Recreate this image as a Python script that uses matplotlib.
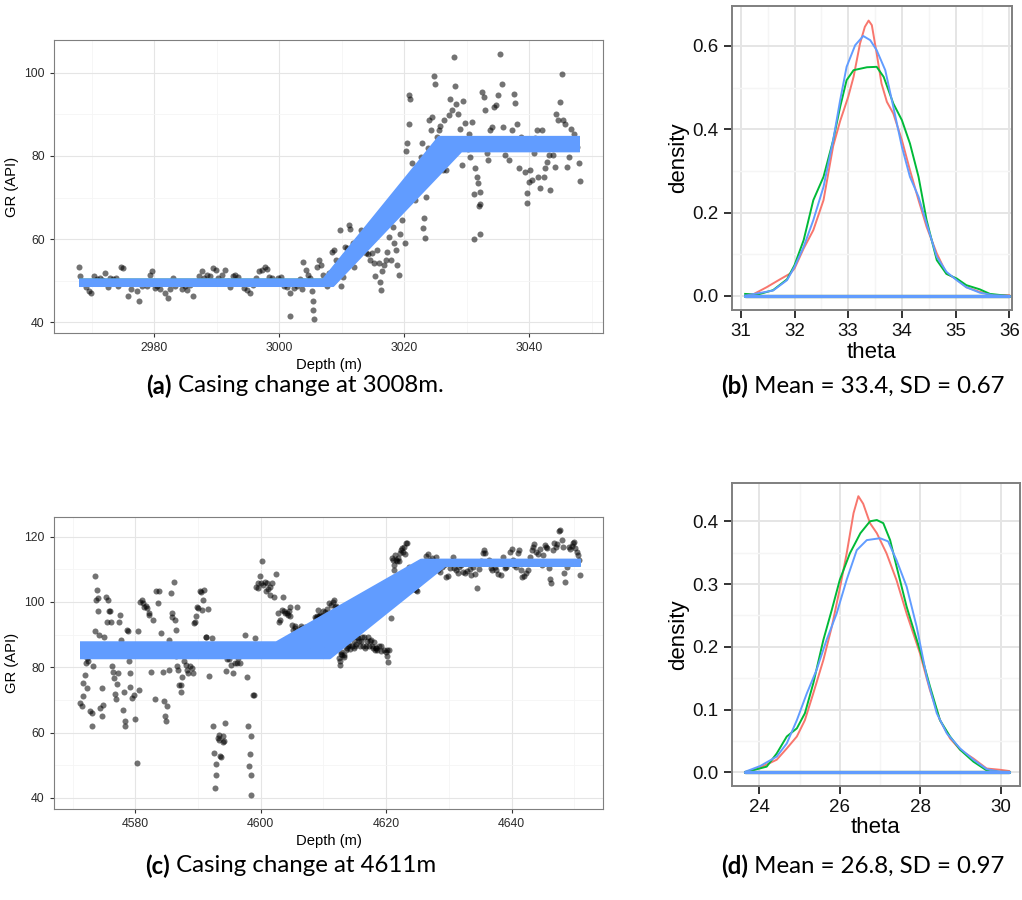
import matplotlib
matplotlib.use('Agg')
import matplotlib.pyplot as plt
import numpy as np

# ---------------- DATA ----------------
# Panel (a): GR log around casing change at 3008 m
depth_a = [2968.0, 2968.1, 2968.6, 2969.1, 2969.6, 2969.9, 2970.4, 2970.8, 2971.3, 2971.75, 2972.2, 2972.6, 2973.0, 2973.4, 2973.9,
           2974.25, 2974.7, 2975.1, 2975.3, 2975.8, 2976.3, 2976.75, 2977.2, 2977.6, 2978.0, 2978.4, 2978.9, 2979.4, 2979.7, 2980.1,
           2980.5, 2980.9, 2981.3, 2981.75, 2982.2, 2982.6, 2983.0, 2983.4, 2983.9, 2984.4, 2984.9, 2985.3, 2985.8, 2986.3, 2986.75,
           2987.2, 2987.7, 2988.0, 2988.4, 2988.9, 2989.4, 2989.9, 2990.3, 2990.8, 2991.3, 2991.75, 2992.2, 2992.6, 2993.0, 2993.4,
           2993.9, 2994.4, 2994.9, 2995.3, 2995.8, 2996.3, 2996.75, 2997.2, 2997.7, 2998.1, 2998.4, 2998.9, 2999.4, 2999.9, 3000.3,
           3000.8, 3001.3, 3001.75, 3001.75, 3002.4, 3002.8, 3003.3, 3003.7, 3003.9, 3004.25, 3004.6, 3004.9, 3005.2, 3005.4, 3005.4,
           3005.6, 3005.8, 3006.1, 3006.4, 3006.75, 3007.1, 3007.4, 3007.7, 3008.0, 3008.4, 3008.8, 3009.1, 3009.4, 3009.7, 3009.9,
           3010.2, 3010.5, 3010.8, 3011.1, 3011.3, 3011.75, 3011.9, 3012.2, 3012.6, 3012.8, 3013.1, 3013.3, 3013.6, 3013.9, 3014.25,
           3014.6, 3014.9, 3015.2, 3015.4, 3015.7, 3015.9, 3016.1, 3016.3, 3016.4, 3016.75, 3017.1, 3017.3, 3017.6, 3017.9, 3018.2,
           3018.4, 3018.7, 3018.9, 3019.1, 3019.3, 3019.6, 3019.8, 3020.1, 3020.3, 3020.5, 3020.7, 3020.8, 3020.9, 3021.2, 3021.4,
           3021.6, 3021.8, 3022.1, 3022.4, 3022.7, 3022.8, 3023.0, 3023.2, 3023.3, 3023.5, 3023.75, 3023.9, 3024.25, 3024.4, 3024.7,
           3024.9, 3025.2, 3025.5, 3025.7, 3025.9, 3026.2, 3026.4, 3026.75, 3027.1, 3027.4, 3027.7, 3027.9, 3028.1, 3028.3, 3028.6,
           3028.9, 3029.25, 3029.4, 3029.7, 3030.2, 3030.4, 3030.6, 3030.8, 3031.1, 3031.2, 3031.4, 3031.6, 3031.8, 3031.9, 3032.1,
           3032.2, 3032.2, 3032.4, 3032.7, 3032.9, 3033.2, 3033.4, 3033.8, 3034.1, 3034.4, 3034.7, 3035.0, 3035.3, 3035.6, 3035.8,
           3036.1, 3036.4, 3036.8, 3037.2, 3037.6, 3037.8, 3038.1, 3038.3, 3038.7, 3038.9, 3039.25, 3039.6, 3039.7, 3039.9, 3040.2,
           3040.4, 3040.7, 3040.9, 3041.2, 3041.4, 3041.8, 3042.1, 3042.3, 3042.6, 3042.8, 3043.1, 3043.3, 3043.4, 3043.8, 3044.1,
           3044.25, 3044.6, 3044.9, 3045.2, 3045.4, 3045.8, 3046.1, 3046.4, 3046.75, 3047.1, 3047.4, 3047.7, 3047.9, 3048.1]
gr_a = [53.2, 51.0, 49.4, 48.4, 47.5, 47.1, 51.1, 50.3, 50.6, 50.2, 51.8, 48.4, 50.6, 50.3, 50.6,
        48.6, 53.4, 53.0, 49.4, 46.3, 47.9, 49.4, 47.4, 45.2, 48.6, 49.6, 48.7, 51.4, 52.4, 48.2,
        48.6, 48.1, 49.6, 47.0, 45.8, 47.9, 50.6, 48.6, 49.4, 47.9, 48.7, 47.8, 49.0, 46.3, 49.4,
        51.1, 52.4, 50.6, 51.4, 51.1, 53.0, 52.6, 50.6, 51.4, 52.6, 50.0, 48.4, 51.1, 51.4, 50.8,
        49.4, 48.2, 47.8, 47.0, 49.0, 50.6, 52.2, 52.6, 53.4, 52.7, 50.8, 50.6, 49.4, 50.6, 50.8,
        48.6, 48.4, 47.0, 41.6, 48.2, 48.6, 50.3, 47.9, 54.6, 52.6, 51.4, 50.6, 47.4, 45.2, 42.9,
        40.7, 49.4, 53.4, 55.0, 53.8, 51.4, 49.6, 48.6, 51.9, 57.0, 57.4, 55.0, 54.2, 62.2, 48.7,
        50.8, 58.2, 57.8, 63.4, 62.4, 59.0, 53.4, 57.8, 56.2, 60.2, 62.3, 57.8, 58.3, 56.7, 56.4,
        55.0, 56.7, 54.3, 51.1, 57.4, 54.2, 49.6, 47.8, 52.4, 53.8, 55.0, 57.0, 60.6, 55.0, 63.0,
        59.0, 57.4, 53.8, 51.4, 61.2, 64.6, 69.4, 59.0, 81.25, 83.2, 87.7, 94.6, 93.8, 78.2, 75.8,
        76.4, 69.4, 72.6, 76.6, 79.8, 83.0, 62.6, 65.0, 60.2, 70.2, 81.8, 88.6, 86.2, 89.3, 99.2,
        97.4, 84.5, 86.2, 87.2, 82.6, 76.6, 88.6, 76.6, 89.8, 93.8, 91.0, 103.9, 96.8, 92.5, 90.2,
        86.6, 77.8, 93.2, 88.0, 81.6, 85.3, 79.8, 88.2, 70.8, 60.0, 77.0, 75.0, 73.4, 68.0, 68.4,
        61.2, 71.4, 95.4, 94.2, 91.0, 80.6, 79.0, 86.2, 87.0, 91.8, 92.2, 94.6, 104.5, 97.4, 87.0,
        80.2, 83.0, 79.0, 86.2, 95.0, 92.8, 87.8, 77.2, 84.6, 82.2, 76.2, 68.75, 71.0, 73.8, 76.6,
        74.2, 80.6, 84.2, 86.2, 75.0, 72.2, 86.2, 75.0, 77.0, 78.6, 80.2, 83.0, 71.8, 80.2, 77.4,
        90.2, 88.6, 93.0, 99.8, 88.6, 87.8, 77.4, 79.8, 86.6, 85.3, 83.8, 82.2, 78.4, 74.0]

# Panel (c): GR log around casing change at 4611 m
depth_c = [4571.15, 4571.4, 4571.6, 4571.7, 4571.9, 4572.1, 4572.2, 4572.3, 4572.5, 4572.7, 4573.0, 4573.1, 4573.3, 4573.5, 4573.6,
           4573.7, 4573.8, 4574.0, 4574.1, 4574.2, 4574.4, 4574.6, 4574.7, 4574.8, 4575.0, 4575.3, 4575.45, 4575.6, 4575.8, 4575.95,
           4576.1, 4576.3, 4576.4, 4576.6, 4576.8, 4576.9, 4577.1, 4577.2, 4577.3, 4577.5, 4577.7, 4577.8, 4578.0, 4578.1, 4578.3,
           4578.4, 4578.6, 4578.75, 4578.9, 4579.1, 4579.2, 4579.4, 4579.6, 4579.7, 4580.0, 4580.2, 4580.4, 4580.6, 4580.8, 4581.1,
           4581.25, 4581.4, 4581.6, 4581.8, 4582.1, 4582.2, 4582.5, 4582.8, 4583.1, 4583.3, 4583.55, 4583.7, 4584.05, 4584.4, 4584.55,
           4584.7, 4584.8, 4585.0, 4585.3, 4585.4, 4585.6, 4585.8, 4585.9, 4586.1, 4586.3, 4586.4, 4586.5, 4586.7, 4586.85, 4587.0,
           4587.2, 4587.3, 4587.5, 4587.8, 4588.1, 4588.3, 4588.4, 4588.7, 4589.0, 4589.2, 4589.35, 4589.5, 4589.7, 4589.8, 4590.0,
           4590.3, 4590.4, 4590.6, 4590.8, 4591.0, 4591.2, 4591.3, 4591.5, 4591.8, 4592.15, 4592.3, 4592.5, 4592.65, 4592.8, 4592.9,
           4593.1, 4593.3, 4593.4, 4593.5, 4593.7, 4593.9, 4594.0, 4594.2, 4594.3, 4594.5, 4594.6, 4594.95, 4595.3, 4595.6, 4595.9,
           4596.2, 4596.4, 4596.6, 4597.1, 4597.45, 4597.8, 4597.9, 4598.1, 4598.3, 4598.4, 4598.4, 4598.5, 4598.7, 4598.9, 4599.1,
           4599.3, 4599.5, 4599.6, 4599.9, 4600.1, 4600.25, 4600.4, 4600.6, 4600.75, 4601.0, 4601.2, 4601.4, 4601.5, 4601.8, 4602.1,
           4602.4, 4602.7, 4602.9, 4603.05, 4603.4, 4603.5, 4603.7, 4603.9, 4604.1, 4604.3, 4604.5, 4604.6, 4604.7, 4604.9, 4605.1,
           4605.4, 4605.5, 4605.7, 4606.0, 4606.2, 4606.35, 4606.5, 4606.8, 4607.1, 4607.4, 4607.7, 4608.0, 4608.3, 4608.7, 4608.85,
           4609.0, 4609.1, 4609.3, 4609.5, 4609.6, 4609.7, 4609.9, 4610.2, 4610.5, 4610.8, 4611.15, 4611.5, 4611.6, 4611.8, 4611.95,
           4612.2, 4612.4, 4612.6, 4612.7, 4612.8, 4612.8, 4613.0, 4613.2, 4613.3, 4613.6, 4613.8, 4613.95, 4614.1, 4614.3, 4614.5,
           4614.6, 4614.8, 4614.9, 4615.1, 4615.2, 4615.3, 4615.5, 4615.7, 4615.8, 4615.95, 4616.1, 4616.3, 4616.45, 4616.6, 4616.8,
           4616.9, 4617.1, 4617.2, 4617.4, 4617.6, 4617.7, 4617.9, 4618.0, 4618.2, 4618.3, 4618.4, 4618.6, 4618.8, 4619.1, 4619.25,
           4619.6, 4619.9, 4620.1, 4620.2, 4620.3, 4620.5, 4620.7, 4620.8, 4620.9, 4621.1, 4621.2, 4621.3, 4621.4, 4621.6, 4621.7,
           4621.9, 4622.1, 4622.2, 4622.4, 4622.55, 4622.7, 4622.8, 4623.0, 4623.2, 4623.3, 4623.6, 4623.9, 4624.2, 4624.4, 4624.7,
           4624.9, 4625.2, 4625.5, 4625.8, 4626.1, 4626.4, 4626.7, 4627.0, 4627.35, 4627.7, 4628.0, 4628.3, 4628.6, 4628.9, 4629.2,
           4629.5, 4629.8, 4630.2, 4630.5, 4630.65, 4630.9, 4631.1, 4631.4, 4631.7, 4632.0, 4632.3, 4632.6, 4632.95, 4633.3, 4633.6,
           4633.9, 4634.2, 4634.5, 4634.8, 4635.1, 4635.45, 4635.6, 4635.8, 4636.1, 4636.4, 4636.7, 4636.9, 4637.1, 4637.3, 4637.6,
           4637.9, 4638.3, 4638.6, 4638.9, 4639.2, 4639.5, 4639.8, 4640.0, 4640.25, 4640.4, 4640.75, 4641.1, 4641.25, 4641.5, 4641.7,
           4642.0, 4642.3, 4642.6, 4642.9, 4643.2, 4643.4, 4643.6, 4643.9, 4644.2, 4644.5, 4644.8, 4645.1, 4645.3, 4645.5, 4645.7,
           4646.0, 4646.2, 4646.35, 4646.7, 4646.85, 4647.1, 4647.3, 4647.6, 4647.8, 4648.0, 4648.2, 4648.4, 4648.6, 4648.85, 4649.2,
           4649.35, 4649.6, 4649.8, 4650.0, 4650.1, 4650.4, 4650.6, 4650.7, 4651.0]
gr_c = [69.0, 68.0, 71.3, 75.15, 77.7, 81.3, 82.8, 73.6, 81.8, 66.5, 61.9, 66.0, 80.45, 107.8, 90.95,
        100.6, 103.7, 101.1, 97.1, 89.9, 67.5, 73.6, 65.0, 68.5, 89.4, 101.65, 94.0, 100.6, 97.1, 97.1,
        94.0, 80.25, 78.7, 76.7, 71.9, 70.3, 74.9, 78.2, 94.0, 96.0, 88.4, 86.4, 67.0, 72.3, 63.4,
        61.9, 91.5, 90.95, 81.8, 78.2, 74.1, 70.6, 85.3, 71.6, 64.1, 50.7, 90.95, 73.1, 100.1, 100.6,
        99.6, 98.6, 98.8, 98.1, 96.6, 96.0, 78.4, 94.5, 70.4, 103.2, 99.6, 103.2, 90.6, 78.4, 69.8,
        65.0, 63.4, 68.0, 79.2, 88.4, 102.7, 96.6, 95.5, 106.2, 94.5, 91.5, 83.3, 80.45, 79.2, 74.6,
        72.3, 74.6, 77.0, 81.8, 80.8, 79.2, 78.2, 80.25, 79.7, 78.2, 93.5, 94.0, 95.7, 98.6, 98.1,
        103.4, 102.9, 97.6, 100.6, 103.7, 89.4, 89.2, 97.8, 77.2, 88.9, 61.9, 53.7, 43.0, 50.4, 47.1,
        58.3, 57.8, 59.35, 52.7, 52.5, 58.8, 57.1, 57.3, 62.9, 79.0, 82.5, 82.5, 80.8, 78.2, 81.3,
        81.3, 82.8, 81.3, 84.3, 89.9, 76.9, 62.1, 49.7, 53.4, 47.1, 41.0, 58.8, 71.6, 71.6, 88.9,
        104.5, 104.2, 105.7, 108.0, 105.9, 112.4, 105.2, 106.2, 103.2, 105.9, 103.9, 104.5, 102.2, 105.9, 101.65,
        108.6, 96.6, 94.0, 94.5, 97.6, 101.65, 97.1, 96.6, 96.6, 96.0, 97.1, 98.6, 95.7, 93.0, 91.5,
        92.5, 92.0, 98.6, 90.2, 91.7, 92.5, 92.0, 90.95, 92.2, 92.0, 90.2, 90.95, 92.0, 95.5, 95.0,
        95.7, 97.6, 95.7, 96.0, 95.7, 94.5, 97.1, 96.8, 97.8, 99.6, 99.1, 100.1, 100.6, 98.6, 98.8,
        98.1, 82.8, 80.8, 81.8, 84.6, 84.1, 83.8, 83.1, 83.8, 85.3, 85.9, 86.4, 86.9, 85.5, 86.4,
        89.4, 85.9, 87.9, 86.4, 87.2, 89.4, 88.9, 87.9, 86.4, 87.9, 89.2, 86.6, 89.2, 85.9, 86.4,
        87.9, 89.2, 86.4, 87.9, 88.4, 86.4, 85.9, 87.6, 85.3, 85.9, 85.9, 85.3, 86.4, 85.1, 86.4,
        85.3, 84.8, 85.3, 83.3, 81.5, 85.3, 95.0, 106.2, 113.4, 112.9, 109.8, 111.3, 114.4, 112.9, 112.4,
        113.4, 112.4, 114.9, 115.9, 116.4, 115.4, 116.9, 114.6, 118.2, 118.0, 110.8, 105.7, 105.2, 103.9, 103.7,
        103.2, 105.9, 108.6, 111.3, 109.8, 114.1, 114.7, 112.9, 113.4, 112.4, 113.9, 109.8, 109.3, 110.8, 111.3,
        107.6, 108.0, 110.3, 112.4, 113.9, 110.3, 109.8, 109.0, 110.8, 111.3, 109.3, 109.0, 109.6, 110.0, 108.3,
        110.8, 108.6, 104.2, 110.0, 112.4, 115.1, 115.9, 114.9, 112.0, 112.7, 110.3, 109.8, 112.0, 110.8, 109.8,
        108.6, 108.3, 113.9, 110.3, 110.8, 112.0, 115.4, 116.1, 112.9, 111.3, 110.8, 115.1, 115.9, 109.8, 107.6,
        108.0, 109.0, 109.8, 113.9, 115.9, 116.9, 117.8, 115.4, 114.7, 116.1, 111.3, 114.4, 117.5, 116.9, 116.4,
        110.3, 107.0, 105.7, 115.9, 118.0, 116.9, 117.8, 121.8, 122.0, 119.0, 116.9, 109.0, 106.2, 110.8, 116.9,
        116.1, 117.15, 118.2, 118.5, 116.4, 115.4, 114.4, 112.9, 108.3]

# Posterior samples of the ramp model: (start of ramp, end of ramp, level before, level after)
chain_names = ["chain 1", "chain 2", "chain 3"]
samples_a = {
    "chain 1": {"cp1": [3007.3, 3007.6, 3008.0, 3008.3, 3008.5, 3007.5, 3007.9],
                "cp2": [3026.0, 3026.7, 3027.5, 3028.3, 3028.9, 3026.4, 3027.3],
                "lev1": [50.0, 49.7, 49.4, 49.15, 48.95, 49.85, 49.5],
                "lev2": [84.2, 83.5, 82.7, 81.9, 81.4, 83.9, 83.0]},
    "chain 2": {"cp1": [3007.2, 3007.5, 3007.9, 3008.2, 3008.5, 3007.4, 3008.1],
                "cp2": [3025.8, 3026.5, 3027.3, 3028.1, 3028.8, 3026.1, 3027.8],
                "lev1": [50.05, 49.8, 49.5, 49.2, 49.0, 49.9, 49.3],
                "lev2": [84.3, 83.7, 82.9, 82.1, 81.5, 84.1, 82.3]},
    "chain 3": {"cp1": [3007.1, 3007.2, 3007.3, 3007.4, 3007.5, 3007.6, 3007.7, 3007.8, 3007.9, 3008.0, 3008.1, 3008.2,
                        3008.3, 3008.4, 3008.5, 3008.6],
                "cp2": [3025.6, 3025.8, 3026.1, 3026.3, 3026.5, 3026.8, 3027.0, 3027.2, 3027.5, 3027.7, 3027.9, 3028.2,
                        3028.4, 3028.6, 3028.9, 3029.1],
                "lev1": [50.1, 50.0, 49.9, 49.85, 49.8, 49.7, 49.6, 49.55, 49.5, 49.4, 49.3, 49.25, 49.2, 49.1, 49.0, 48.9],
                "lev2": [84.4, 84.2, 84.0, 83.8, 83.6, 83.4, 83.2, 83.0, 82.8, 82.6, 82.4, 82.2, 82.0, 81.8, 81.5, 81.3]},
}
samples_c = {
    "chain 1": {"cp1": [4602.8, 4604.8, 4606.8, 4609.0, 4610.8, 4603.9, 4610.0],
                "cp2": [4625.8, 4626.6, 4627.5, 4628.5, 4629.2, 4627.3, 4626.5],
                "lev1": [87.1, 86.1, 85.0, 83.9, 83.2, 84.3, 86.5],
                "lev2": [112.6, 112.3, 111.9, 111.6, 111.4, 111.6, 112.4]},
    "chain 2": {"cp1": [4603.0, 4605.2, 4607.4, 4609.6, 4610.7, 4604.4, 4608.8],
                "cp2": [4625.9, 4626.8, 4627.8, 4628.9, 4629.2, 4627.8, 4626.3],
                "lev1": [87.0, 85.9, 84.7, 83.6, 83.2, 83.8, 86.8],
                "lev2": [112.6, 112.2, 111.8, 111.5, 111.4, 111.5, 112.5]},
    "chain 3": {"cp1": [4602.5, 4603.0, 4603.5, 4604.0, 4604.5, 4605.0, 4605.5, 4606.0, 4606.5, 4607.0, 4607.5, 4608.0,
                        4608.5, 4609.0, 4609.5, 4610.0, 4610.5, 4611.0, 4603.8, 4605.2, 4606.6, 4608.2, 4609.4, 4610.6],
                "cp2": [4625.6, 4625.8, 4626.0, 4626.3, 4626.5, 4626.7, 4626.9, 4627.2, 4627.4, 4627.6, 4627.8, 4628.1,
                        4628.3, 4628.5, 4628.8, 4629.0, 4629.2, 4629.4, 4627.6, 4628.0, 4628.4, 4626.8, 4626.4, 4626.0],
                "lev1": [87.4, 87.1, 86.8, 86.6, 86.3, 86.0, 85.8, 85.5, 85.2, 85.0, 84.7, 84.4, 84.2, 83.9, 83.7, 83.4,
                         83.2, 83.0, 84.0, 83.6, 83.3, 86.4, 86.9, 87.2],
                "lev2": [112.7, 112.6, 112.5, 112.4, 112.3, 112.2, 112.2, 112.1, 112.0, 111.9, 111.8, 111.8, 111.7, 111.6,
                         111.5, 111.4, 111.4, 111.3, 111.7, 111.6, 111.5, 112.3, 112.4, 112.6]},
}
range_a = (2968.0, 3048.1)
range_c = (4571.15, 4651.0)

# Panel (b): posterior density of theta for three chains
b_x = {
    "chain 1": [31.10, 31.23, 31.48, 31.73, 31.92, 32.00, 32.17, 32.35, 32.54, 32.72, 32.85, 33.00, 33.10, 33.22, 33.31, 33.38,
                33.44, 33.53, 33.62, 33.72, 33.84, 34.00, 34.15, 34.31, 34.46, 34.65, 34.83, 35.00, 35.20, 35.45, 35.70, 36.00],
    "chain 2": [31.08, 31.30, 31.60, 31.86, 32.00, 32.17, 32.35, 32.54, 32.72, 32.85, 32.97, 33.10, 33.35, 33.53, 33.66, 33.84,
                34.00, 34.15, 34.31, 34.46, 34.65, 34.83, 35.02, 35.20, 35.45, 35.64, 36.00],
    "chain 3": [31.08, 31.60, 31.86, 32.00, 32.17, 32.35, 32.54, 32.72, 32.85, 32.97, 33.13, 33.28, 33.41, 33.53, 33.69, 33.84,
                34.00, 34.15, 34.31, 34.46, 34.65, 34.83, 35.02, 35.20, 35.45, 35.70, 36.00],
}
b_y = {
    "chain 1": [0.003, 0.004, 0.021, 0.040, 0.054, 0.066, 0.114, 0.158, 0.230, 0.360, 0.420, 0.478, 0.526, 0.606, 0.646, 0.661,
                0.650, 0.582, 0.510, 0.466, 0.438, 0.374, 0.302, 0.230, 0.166, 0.102, 0.054, 0.042, 0.021, 0.010, 0.002, 0.002],
    "chain 2": [0.005, 0.003, 0.014, 0.040, 0.074, 0.134, 0.230, 0.286, 0.374, 0.454, 0.518, 0.542, 0.549, 0.550, 0.526, 0.462,
                0.422, 0.366, 0.286, 0.182, 0.086, 0.053, 0.042, 0.026, 0.016, 0.005, 0.000],
    "chain 3": [0.001, 0.013, 0.038, 0.070, 0.118, 0.182, 0.262, 0.374, 0.470, 0.550, 0.602, 0.624, 0.614, 0.590, 0.542, 0.454,
                0.358, 0.286, 0.238, 0.174, 0.094, 0.058, 0.038, 0.021, 0.008, 0.002, 0.000],
}
# Panel (d)
d_x = {
    "chain 1": [23.65, 23.85, 24.10, 24.43, 24.68, 24.93, 25.13, 25.34, 25.59, 25.80, 25.99, 26.17, 26.34, 26.46, 26.58, 26.75,
                26.92, 27.16, 27.41, 27.66, 27.99, 28.24, 28.49, 28.74, 28.99, 29.32, 29.65, 29.98, 30.21],
    "chain 2": [23.65, 24.18, 24.43, 24.68, 24.93, 25.13, 25.34, 25.59, 25.80, 26.00, 26.25, 26.51, 26.75, 26.92, 27.08, 27.25,
                27.41, 27.66, 27.99, 28.24, 28.49, 28.74, 28.99, 29.32, 29.65, 29.81, 30.21],
    "chain 3": [23.65, 24.02, 24.43, 24.68, 24.93, 25.18, 25.42, 25.67, 25.92, 26.17, 26.42, 26.67, 27.00, 27.20, 27.41, 27.66,
                27.91, 28.16, 28.41, 28.66, 28.99, 29.32, 29.65, 29.98, 30.21],
}
d_y = {
    "chain 1": [0.000, 0.004, 0.010, 0.020, 0.038, 0.057, 0.083, 0.126, 0.179, 0.232, 0.290, 0.349, 0.413, 0.440, 0.428, 0.397,
                0.381, 0.349, 0.306, 0.253, 0.190, 0.131, 0.083, 0.054, 0.036, 0.022, 0.006, 0.004, 0.002],
    "chain 2": [0.000, 0.009, 0.030, 0.057, 0.070, 0.094, 0.142, 0.211, 0.259, 0.307, 0.349, 0.381, 0.400, 0.402, 0.397, 0.370,
                0.328, 0.264, 0.195, 0.137, 0.083, 0.057, 0.036, 0.017, 0.003, 0.000, 0.000],
    "chain 3": [0.001, 0.010, 0.025, 0.046, 0.083, 0.126, 0.163, 0.211, 0.253, 0.307, 0.354, 0.370, 0.373, 0.368, 0.338, 0.296,
                0.232, 0.152, 0.094, 0.062, 0.038, 0.020, 0.005, 0.001, 0.000],
}

captions = [("(a)", "Casing change at 3008m."), ("(b)", "Mean = 33.4, SD = 0.67"),
            ("(c)", "Casing change at 4611m"), ("(d)", "Mean = 26.8, SD = 0.97")]

# ---------------- STYLE ----------------
chain_colors = {"chain 1": "#F8766D", "chain 2": "#00BA38", "chain 3": "#619CFF"}
AXFONT = "Liberation Sans"

fig = plt.figure(figsize=(10.22, 9.0), dpi=100)
fig.patch.set_facecolor("white")


def style_axes(ax, big):
    s = 1.0 if not big else 1.75
    for sp in ax.spines.values():
        sp.set_color("#7F7F7F")
        sp.set_linewidth(0.8 * s)
    ax.set_axisbelow(True)
    ax.grid(which="major", color="#E5E5E5", linewidth=0.8 * s)
    ax.grid(which="minor", color="#F5F5F5", linewidth=0.6 * s)
    ax.tick_params(which="major", length=3.2 * s, width=0.8 * s, color="#333333",
                   labelsize=(8.8 if not big else 13.5), labelcolor=("#2b2b2b" if not big else "#111111"),
                   pad=(3.4 if not big else 4.0))
    ax.tick_params(which="minor", length=0)
    for lab in ax.get_xticklabels() + ax.get_yticklabels():
        lab.set_fontfamily(AXFONT)


def ramp_panel(ax, depth, gr, samples, drange, xlim, ylim, xmaj, xmin_, ymaj, ymin_):
    ax.scatter(depth, gr, s=19, color="black", alpha=0.55, linewidths=0, zorder=2)
    for name in chain_names:
        smp = samples[name]
        for c1, c2, l1, l2 in zip(smp["cp1"], smp["cp2"], smp["lev1"], smp["lev2"]):
            ax.plot([drange[0], c1, c2, drange[1]], [l1, l1, l2, l2], color=chain_colors[name],
                    linewidth=2.6, solid_capstyle="butt", solid_joinstyle="round", zorder=3)
    ax.set_xlim(*xlim)
    ax.set_ylim(*ylim)
    ax.set_xticks(xmaj)
    ax.set_xticks(xmin_, minor=True)
    ax.set_yticks(ymaj)
    ax.set_yticks(ymin_, minor=True)
    style_axes(ax, False)
    ax.set_xlabel("Depth (m)", fontsize=10.6, family=AXFONT, labelpad=2.5)
    ax.set_ylabel("GR (API)", fontsize=10.6, family=AXFONT, labelpad=4)


def density_panel(ax, xs, ys, xlim, ylim, xmaj, xmin_, ymaj, ymin_, yfmt):
    for name in chain_names:
        ax.plot(xs[name], ys[name], color=chain_colors[name], linewidth=1.4, zorder=3,
                solid_joinstyle="round")
    for name in chain_names:
        ax.plot([xs[name][0], xs[name][-1]], [0, 0], color=chain_colors[name], linewidth=2.3,
                solid_capstyle="round", zorder=4)
    ax.set_xlim(*xlim)
    ax.set_ylim(*ylim)
    ax.set_xticks(xmaj)
    ax.set_xticks(xmin_, minor=True)
    ax.set_yticks(ymaj)
    ax.set_yticklabels([yfmt.format(v) for v in ymaj])
    ax.set_yticks(ymin_, minor=True)
    style_axes(ax, True)
    ax.set_xlabel("theta", fontsize=16, family=AXFONT, labelpad=1)
    ax.set_ylabel("density", fontsize=16, family=AXFONT, labelpad=2)


W, H = 1022.0, 900.0


def rect(l, t, r, b):
    return [l / W, 1 - b / H, (r - l) / W, (b - t) / H]


ax_a = fig.add_axes(rect(54, 40, 603, 333))
ramp_panel(ax_a, depth_a, gr_a, samples_a, range_a, (2964.0, 3051.8), (37.4, 107.9),
           [2980, 3000, 3020, 3040], [2970, 2990, 3010, 3030, 3050],
           [40, 60, 80, 100], [50, 70, 90])

ax_b = fig.add_axes(rect(731.7, 6, 1011.7, 310))
density_panel(ax_b, b_x, b_y, (30.83, 36.045), (-0.0336, 0.696),
              [31, 32, 33, 34, 35, 36], [31.5, 32.5, 33.5, 34.5, 35.5],
              [0.0, 0.2, 0.4, 0.6], [0.1, 0.3, 0.5], "{:.1f}")

ax_c = fig.add_axes(rect(54, 516.7, 603, 809))
ramp_panel(ax_c, depth_c, gr_c, samples_c, range_c, (4567.0, 4654.6), (36.6, 126.1),
           [4580, 4600, 4620, 4640], [4570, 4590, 4610, 4630, 4650],
           [40, 60, 80, 100, 120], [50, 70, 90, 110])

ax_d = fig.add_axes(rect(731.7, 482.7, 1020, 785.7))
density_panel(ax_d, d_x, d_y, (23.31, 30.48), (-0.0214, 0.4615),
              [24, 26, 28, 30], [25, 27, 29],
              [0.0, 0.1, 0.2, 0.3, 0.4], [0.05, 0.15, 0.25, 0.35], "{:.1f}")

# ---------------- CAPTIONS ----------------
CAPFONT = "Lato"
renderer = fig.canvas.get_renderer()
cap_pos = [(295, 386), (863, 386), (291, 866), (863, 866)]
for (lab, txt), (cx, cy) in zip(captions, cap_pos):
    t1 = fig.text(0, 1 - cy / H, lab, fontsize=17.3, fontweight="bold", family=CAPFONT, va="center", ha="left")
    t2 = fig.text(0, 1 - cy / H, " " + txt, fontsize=17.3, family=CAPFONT, va="center", ha="left")
    w1 = t1.get_window_extent(renderer).width
    w2 = t2.get_window_extent(renderer).width
    x0 = cx - (w1 + w2) / 2.0
    t1.set_x(x0 / W)
    t2.set_x((x0 + w1) / W)

fig.savefig("out.png", dpi=100, facecolor="white")
